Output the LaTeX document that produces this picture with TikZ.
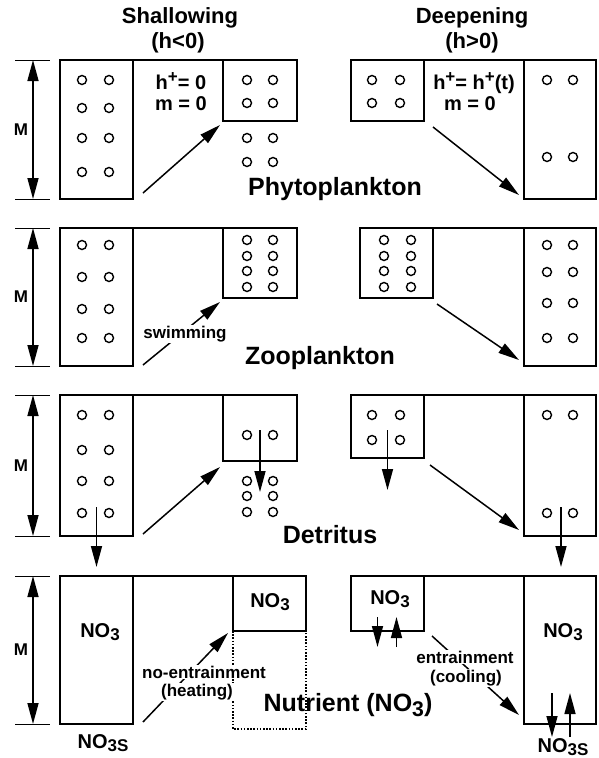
\documentclass[tikz,border=0pt]{standalone}
\usepackage{fontspec}
\setmainfont{Liberation Sans}
\usetikzlibrary{arrows.meta,calc}
% lowered index and raised sign, as set in the labels
\newcommand\lowsub[1]{\raisebox{-0.35ex}{\scalebox{0.85}{#1}}}
\newcommand\hisup[1]{\raisebox{0.6ex}{\scalebox{0.85}{#1}}}
\begin{document}
\begin{tikzpicture}[x=1pt,y=-1pt,
  box/.style={draw,line width=1.8pt,anchor=north west,inner sep=0pt,outer sep=0pt},
  edge/.style={line width=1.8pt},
  arr/.style={line width=1.5pt,-{Triangle[length=21pt,width=11pt]}},
  dbl/.style={line width=1.5pt,{Triangle[length=21pt,width=11pt]}-{Triangle[length=21pt,width=11pt]}},
  ring/.style={line width=1.4pt},
  rule/.style={line width=1pt},
  head/.style={font=\fontsize{22}{22}\selectfont\bfseries,inner sep=0pt},
  eqn/.style={font=\fontsize{20}{20}\selectfont\bfseries,inner sep=0pt,anchor=base,text depth=0pt},
  big/.style={font=\fontsize{25}{25}\selectfont\bfseries,inner sep=0pt},
  chem/.style={font=\fontsize{20}{20}\selectfont\bfseries,inner sep=0pt},
  mlab/.style={font=\fontsize{17}{17}\selectfont\bfseries,inner sep=0pt},
  note/.style={font=\fontsize{17}{17}\selectfont\bfseries,fill=white,inner sep=1pt}]
\useasboundingbox (0,0) rectangle (598,758);

% column headings
\node[head] (tS)  at (180,18) {Shallowing};
\node[head] (tSh) at (178,43) {(h<0)};
\node[head] (tD)  at (472,18) {Deepening};
\node[head] (tDh) at (472,43) {(h>0)};

% depth brackets M for the four rows
\foreach \t/\b/\n in {60/199/1,228/366/2,395/536/3,576/724/4}{
  \draw[rule] (15,\t) -- (50,\t);
  \draw[rule] (15,\b) -- (50,\b);
  \coordinate (mt\n) at (33,\t);
  \coordinate (mb\n) at (33,\b);
  \draw[dbl] (mt\n) -- (mb\n);
  \node[mlab,fill=white,inner sep=1pt] (M\n) at (21,{(\t+\b)/2}) {M};
}

% ---------------- Phytoplankton ----------------
\node[box,minimum width=73,minimum height=139] (L1a) at (60,60) {};
\node[box,minimum width=74,minimum height=61]  (L1b) at (223,60) {};
\draw[edge] (L1a.north east) -- (L1b.north west);
\node[box,minimum width=73,minimum height=61]  (R1a) at (351,60) {};
\node[box,minimum width=72,minimum height=139] (R1b) at (524,60) {};
\draw[edge] (R1a.north east) -- (R1b.north west);
\foreach \x in {82,109} \foreach \y in {80,108,138,172} \draw[ring] (\x,\y) circle[radius=4.5];
\foreach \x in {247,273} \foreach \y in {80,103,138,162} \draw[ring] (\x,\y) circle[radius=4.5];
\foreach \x in {372,400} \foreach \y in {80,103} \draw[ring] (\x,\y) circle[radius=4.5];
\foreach \x in {547,573} \foreach \y in {80,157} \draw[ring] (\x,\y) circle[radius=4.5];
\node[eqn] (e1) at (181,89)  {h\hisup{+}= 0};
\node[eqn] (e2) at (181,110) {m = 0};
\node[eqn] (e3) at (474,89)  {h\hisup{+}= h\hisup{+}(t)};
\node[eqn] (e4) at (470,110) {m = 0};
\draw[arr] ($(L1a.south east)+(10,-6)$) -- ($(L1b.south west)+(-3,4)$);
\draw[arr] ($(R1a.south east)+(9,6)$) -- ($(R1b.south west)+(-5,-4)$);
\node[big] (phy) at (335,189) {Phytoplankton};

% ---------------- Zooplankton ----------------
\node[box,minimum width=73,minimum height=138] (L2a) at (60,228) {};
\node[box,minimum width=74,minimum height=70]  (L2b) at (223,228) {};
\draw[edge] (L2a.north east) -- (L2b.north west);
\node[box,minimum width=73,minimum height=70]  (R2a) at (360,228) {};
\node[box,minimum width=72,minimum height=138] (R2b) at (524,228) {};
\draw[edge] (R2a.north east) -- (R2b.north west);
\foreach \x in {82,109} \foreach \y in {245,277,309,338} \draw[ring] (\x,\y) circle[radius=4.5];
\foreach \x in {247,273} \foreach \y in {240,256,271,287} \draw[ring] (\x,\y) circle[radius=4.5];
\foreach \x in {384,411} \foreach \y in {240,256,271,287} \draw[ring] (\x,\y) circle[radius=4.5];
\foreach \x in {547,573} \foreach \y in {245,272,303,338} \draw[ring] (\x,\y) circle[radius=4.5];
\draw[arr] ($(L2a.south east)+(10,-1)$) -- ($(L2b.south west)+(-3,4)$);
\node[note] (swim) at (185,334) {swimming};
\draw[arr] ($(R2a.south east)+(4,6)$) -- ($(R2b.south west)+(-5,-6)$);
\node[big] (zoo) at (320,358) {Zooplankton};

% ---------------- Detritus ----------------
\node[box,minimum width=73,minimum height=141] (L3a) at (60,395) {};
\node[box,minimum width=74,minimum height=66]  (L3b) at (223,395) {};
\draw[edge] (L3a.north east) -- (L3b.north west);
\node[box,minimum width=73,minimum height=63]  (R3a) at (351,395) {};
\node[box,minimum width=72,minimum height=141] (R3b) at (524,395) {};
\draw[edge] (R3a.north east) -- (R3b.north west);
\foreach \x in {82,109} \foreach \y in {415,450,481,513} \draw[ring] (\x,\y) circle[radius=4.5];
\foreach \x in {247,273} \foreach \y in {435,481,496,512} \draw[ring] (\x,\y) circle[radius=4.5];
\foreach \x in {372,400} \foreach \y in {415,440} \draw[ring] (\x,\y) circle[radius=4.5];
\foreach \x in {547,573} \foreach \y in {415,513} \draw[ring] (\x,\y) circle[radius=4.5];
\draw[arr] ($(L3a.south)+(0,-29)$) -- ($(L3a.south)+(0,31)$);
\draw[arr] ($(L3b.south)+(0,-31)$) -- ($(L3b.south)+(0,31)$);
\draw[arr] ($(R3a.south)+(0,-28)$) -- ($(R3a.south)+(0,32)$);
\draw[arr] ($(R3b.south)+(1,-29)$) -- ($(R3b.south)+(1,31)$);
\draw[arr] ($(L3a.south east)+(10,-2)$) -- ($(L3b.south west)+(-3,6)$);
\draw[arr] ($(R3a.south east)+(6,7)$) -- ($(R3b.south west)+(-5,-6)$);
\node[big] (det) at (330,535) {Detritus};

% ---------------- Nutrient ----------------
\node[box,minimum width=73,minimum height=148] (L4a) at (60,576) {};
\node[box,minimum width=73,minimum height=55]  (L4b) at (233,576) {};
\draw[edge] (L4a.north east) -- (L4b.north west);
\draw[line width=1.2pt,dash pattern=on 1.6pt off 1.6pt]
  (L4b.south west) -- ++(0,98) -| (L4b.south east);
\node[box,minimum width=73,minimum height=55]  (R4a) at (351,576) {};
\node[box,minimum width=72,minimum height=148] (R4b) at (524,576) {};
\draw[edge] (R4a.north east) -- (R4b.north west);
\node[chem] (n1) at (100,632) {NO\lowsub{3}};
\node[chem] (n1s) at (103,743) {NO\lowsub{3S}};
\node[chem] (n2) at (270,602) {NO\lowsub{3}};
\node[chem] (n3) at (390,599) {NO\lowsub{3}};
\node[chem] (n4) at (563,632) {NO\lowsub{3}};
\node[chem] (n4s) at (563,747) {NO\lowsub{3S}};
\draw[arr] ($(L4a.south east)+(10,-2)$) -- ($(L4b.south west)+(-5,2)$);
\node[note] (noe) at (204,672) {no-entrainment};
\node[note] (heat) at (197,692) {(heating)};
\draw[arr] ($(R4a.south)+(-10,-14)$) -- ($(R4a.south)+(-10,16)$);
\draw[arr] ($(R4a.south)+(9,16)$) -- ($(R4a.south)+(9,-14)$);
\draw[arr] ($(R4b.south)+(-8,-31)$) -- ($(R4b.south)+(-8,13)$);
\draw[arr] ($(R4b.south)+(10,13)$) -- ($(R4b.south)+(10,-31)$);
\draw[arr] ($(R4a.south east)+(8,5)$) -- ($(R4b.south west)+(-5,-9)$);
\node[note] (ent) at (465,657) {entrainment};
\node[note] (cool) at (466,678) {(cooling)};
\node[big] (nut) at (348,705) {Nutrient (NO\lowsub{3})};
\end{tikzpicture}
\end{document}
